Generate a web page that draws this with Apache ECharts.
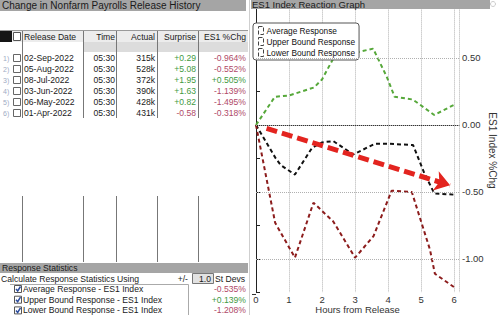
<!DOCTYPE html>
<html><head><meta charset="utf-8">
<script src="https://cdn.jsdelivr.net/npm/echarts@6/dist/echarts.min.js"></script>
<style>html,body{margin:0;padding:0;background:#fff}#c{width:500px;height:315px}</style>
</head><body><div id="c"></div>
<script>
// ---- table data ----
const tableDates = ['02-Sep-2022','05-Aug-2022','08-Jul-2022','03-Jun-2022','06-May-2022','01-Apr-2022'];
const tableTimes = ['05:30','05:30','05:30','05:30','05:30','05:30'];
const tableActual = ['315k','528k','372k','390k','428k','431k'];
const tableSurprise = ['+0.29','+5.08','+1.95','+1.63','+0.82','-0.58'];
const tableEs1 = ['-0.964%','-0.552%','+0.505%','-1.139%','-1.495%','-0.318%'];
const tableHeaders = ['Release Date','Time','Actual','Surprise','ES1 %Chg'];
const statLabels = ['Average Response - ES1 Index','Upper Bound Response - ES1 Index','Lower Bound Response - ES1 Index'];
const statValues = ['-0.535%','+0.139%','-1.208%'];
// ---- chart data ----
const seriesNames = ['Average Response','Upper Bound Response','Lower Bound Response'];
const avgHours = [0,0.6,0.75,1.18,1.7,2.0,2.34,2.95,3.6,4.0,4.76,5.1,5.4,6];
const avgValues = [0,-0.25,-0.3,-0.37,-0.17,-0.13,-0.12,-0.22,-0.14,-0.14,-0.15,-0.36,-0.51,-0.52];
const upperHours = [0,0.57,1.0,1.76,2.0,2.35,2.85,3.55,3.96,4.2,4.75,5.4,6];
const upperValues = [0,0.21,0.22,0.28,0.34,0.5,0.53,0.57,0.36,0.21,0.19,0.075,0.15];
const lowerHours = [0,0.58,1.18,1.74,2.34,3.0,3.56,4.11,4.72,5.27,5.42,6];
const lowerValues = [0,-0.73,-0.99,-0.58,-0.72,-0.99,-0.83,-0.49,-0.5,-0.93,-1.11,-1.21];
const arrowStart = [0.32,-0.025];
const arrowEnd = [5.88,-0.45];
const gridValues = [0.5,0,-0.5,-1.0];

const FONT = "'Liberation Sans', Arial, sans-serif";
const zip = (a,b)=>a.map((v,i)=>[v,b[i]]);
const g = [];
function txt(s,x,y,opt){opt=opt||{};g.push({type:'text',x:x,y:y,z:10,silent:true,style:{text:s,fill:opt.fill||'#1a1a1a',font:(opt.size||10)+'px '+FONT,align:opt.align||'left',verticalAlign:'middle'}});}
function rect(x,y,w,h,fill,stroke){g.push({type:'rect',z:5,silent:true,shape:{x:x,y:y,width:w,height:h},style:{fill:fill||'none',stroke:stroke||null,lineWidth:1}});}
function line(x1,y1,x2,y2,c){g.push({type:'line',z:6,silent:true,shape:{x1:x1,y1:y1,x2:x2,y2:y2},style:{stroke:c||'#777',lineWidth:1}});}
function valColor(s){return s.charAt(0)==='-'?'#b04a68':'#3f9a3f';}

const TS = 8.6;
// left panel
rect(0,0,246,11,'#a5a5a5');
txt('Change in Nonfarm Payrolls Release History',2,5.5,{size:10});
line(249.5,0,249.5,315,'#cfcfcf');
line(0,30.5,248,30.5,'#9a9a9a');
rect(0,31,248,11,'#ececec');
rect(83,42,165,10,'#dcdcdc');
rect(0,31,12,11,'#151515');
rect(13.5,32.5,7,8,'#fff','#555');
const colX = [22.5,83.5,116.5,157.5,198.5];
colX.forEach(x=>{line(x,31,x,118,'#777');line(x,196,x,262,'#777');});
txt(tableHeaders[0],24,36.5,{size:TS});
const rightX = [115,155,196,246];
for(let k=1;k<5;k++) txt(tableHeaders[k],rightX[k-1],36.5,{size:TS,align:'right'});
tableDates.forEach((d,i)=>{
  const y = 58+11*i;
  txt((i+1)+')',3,y,{size:7,fill:'#a0abc4'});
  rect(13.5,y-3.5,7,7,'#fff','#666');
  txt(d,24,y,{size:TS});
  txt(tableTimes[i],115,y,{size:TS,align:'right'});
  txt(tableActual[i],155,y,{size:TS,align:'right'});
  txt(tableSurprise[i],196,y,{size:TS,align:'right',fill:valColor(tableSurprise[i])});
  txt(tableEs1[i],246,y,{size:TS,align:'right',fill:valColor(tableEs1[i])});
});
rect(0,263,248,10,'#a5a5a5');
txt('Response Statistics',2,268,{size:TS});
txt('Calculate Response Statistics Using',1,278.5,{size:TS});
txt('+/-',188,278.5,{size:TS,align:'right'});
rect(192.5,273.5,21,10,'#e2e2e2','#777');
txt('1.0',211,278.5,{size:TS,align:'right'});
txt('St Devs',215,278.5,{size:TS});
line(10,284.5,188.5,284.5,'#aaa');
line(188.5,284.5,188.5,315,'#aaa');
statLabels.forEach((s,i)=>{
  const y = 289+10.7*i;
  rect(14.5,y-3.5,7,7,'#fff','#555');
  g.push({type:'polyline',z:7,silent:true,shape:{points:[[16,y],[17.7,y+2],[20.5,y-2.5]]},style:{stroke:'#2b4c9e',lineWidth:1.5,fill:null}});
  txt(s,23,y,{size:TS});
  txt(statValues[i],246,y,{size:TS,align:'right',fill:valColor(statValues[i])});
});
// right panel header
rect(251,0,239,9,'#a5a5a5');
txt('ES1 Index Reaction Graph',252,4.5,{size:9.5});
g.push({type:'circle',z:5,silent:true,shape:{cx:493,cy:4,r:2.5},style:{fill:'#fff',stroke:'#ccc'}});
line(252,294.5,256,294.5,'#333');

const chart = echarts.init(document.getElementById('c'),null,{renderer:'svg'});
chart.setOption({
  animation:false,
  backgroundColor:'#fff',
  textStyle:{fontFamily:FONT},
  grid:{left:256,right:41,top:8.4,bottom:22.5,containLabel:false,outerBoundsMode:'none'},
  legend:{
    data:seriesNames, orient:'vertical', left:253, top:23,
    backgroundColor:'#fff', borderColor:'#555', borderWidth:1, borderRadius:3,
    padding:[3,4,3,5], itemGap:2, itemWidth:5, itemHeight:8, icon:'rect',
    itemStyle:{color:'#fff',borderColor:'#444',borderWidth:1,borderType:'dashed'},
    textStyle:{fontSize:8.3,color:'#111',fontFamily:FONT,padding:[0,0,0,-2]}
  },
  xAxis:{
    type:'value', min:0, max:6.15, interval:1,
    axisLine:{lineStyle:{color:'#333'}},
    axisTick:{show:false},
    axisLabel:{fontSize:9.5,color:'#333',margin:2,lineHeight:9.5,formatter:v=>Number.isInteger(v)?String(v):''},
    splitLine:{show:true,lineStyle:{type:'dotted',color:'#b0b0b0'}},
    name:'Hours from Release', nameLocation:'middle', nameGap:12.5, nameMoveOverlap:false,
    nameTextStyle:{fontSize:9.5,color:'#333',lineHeight:9.5,padding:0}
  },
  yAxis:{
    type:'value', position:'right', min:-1.25, max:0.87, interval:0.25,
    axisLine:{show:true,lineStyle:{color:'#222'}},
    axisTick:{show:true,length:4,lineStyle:{color:'#222'}},
    axisLabel:{fontSize:9.5,color:'#333',margin:3,showMaxLabel:false,
      formatter:v=>{const r=Math.round(v*100);return (r%50===0)?(v).toFixed(2):'';}},
    splitLine:{show:false},
    name:'ES1 Index %Chg', nameLocation:'middle', nameRotate:-90, nameGap:28, nameMoveOverlap:false,
    nameTextStyle:{fontSize:10,color:'#333'}
  },
  series:[
    {name:seriesNames[0],type:'line',data:zip(avgHours,avgValues),symbol:'none',
     lineStyle:{color:'#111',width:2,type:[4,3]},itemStyle:{color:'#111'},
     markLine:{silent:true,symbol:'none',label:{show:false},
       lineStyle:{type:'dotted',color:'#b0b0b0',width:1},
       data:gridValues.map(v=>({yAxis:v}))}},
    {name:seriesNames[1],type:'line',data:zip(upperHours,upperValues),symbol:'none',
     lineStyle:{color:'#56a83a',width:2,type:[4,3]},itemStyle:{color:'#56a83a'}},
    {name:seriesNames[2],type:'line',data:zip(lowerHours,lowerValues),symbol:'none',
     lineStyle:{color:'#8c1c1c',width:2,type:[4,3]},itemStyle:{color:'#8c1c1c'},
     markLine:{silent:true,symbol:['none','arrow'],symbolSize:15,label:{show:false},
       lineStyle:{type:[11,5],color:'#e3241f',width:5},
       data:[[{coord:arrowStart},{coord:arrowEnd}]]}}
  ],
  graphic:g
});
</script></body></html>
